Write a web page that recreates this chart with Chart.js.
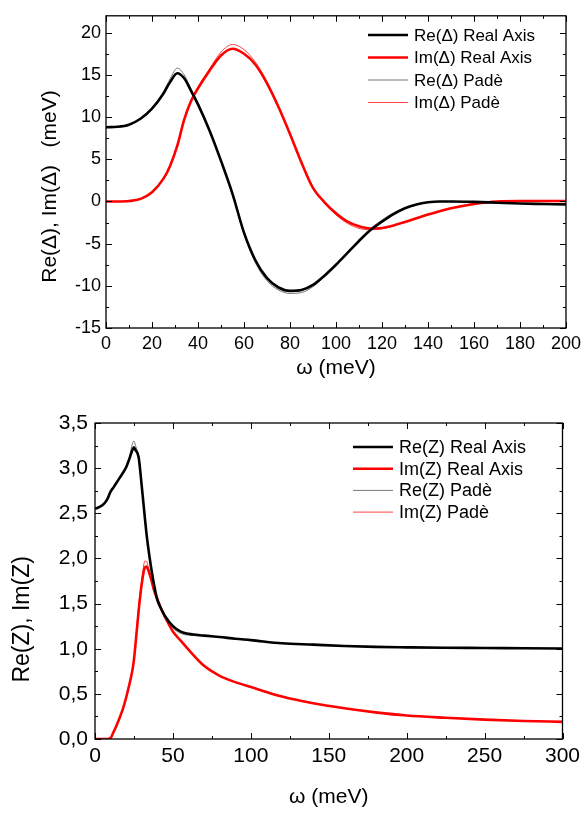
<!DOCTYPE html>
<html><head><meta charset="utf-8">
<script src="https://cdn.jsdelivr.net/npm/chart.js@4.4.0/dist/chart.umd.min.js"></script>
<style>
html,body{margin:0;padding:0;background:#fff;}
#wrap{position:relative;width:586px;height:815px;overflow:hidden;}
canvas{position:absolute;left:0;}
#c1{top:0}
#c2{top:400px}
</style></head><body>
<div id="wrap"><canvas id="c1" width="586" height="400"></canvas><canvas id="c2" width="586" height="415"></canvas></div>
<script>
// ---------- Top panel data: Δ(ω) ----------
const omegaTop = [0,5,10,15,20,25,28,31,34,37,40,45,50,55,60,65,70,75,80,85,90,95,100,105,110,115,120,125,130,135,140,145,150,160,170,180,190,200];
const reDeltaReal = [8.8,8.85,9.1,9.8,11.0,12.8,14.2,15.2,14.6,13.1,11.5,8.4,4.8,0.9,-3.7,-7.0,-9.1,-10.2,-10.6,-10.5,-9.9,-8.8,-7.5,-6.1,-4.7,-3.4,-2.4,-1.5,-0.8,-0.35,-0.1,0.0,0.0,-0.05,-0.15,-0.25,-0.3,-0.35];
const imDeltaReal = [0,0,0.05,0.3,1.1,2.7,4.3,6.6,9.7,11.9,13.4,15.5,17.3,18.1,17.5,16.2,14.0,11.2,8.0,4.6,1.6,-0.1,-1.4,-2.4,-2.95,-3.2,-3.15,-2.85,-2.45,-2.0,-1.55,-1.15,-0.8,-0.3,0.0,0.05,0.05,0.05];
const reDeltaPade = [8.8,8.85,9.1,9.8,11.0,13.0,14.6,15.8,15.0,13.3,11.7,8.5,4.8,0.8,-3.9,-7.3,-9.4,-10.5,-10.9,-10.8,-10.1,-8.9,-7.5,-6.0,-4.5,-3.2,-2.2,-1.35,-0.75,-0.35,-0.1,0.0,0.0,-0.05,-0.15,-0.25,-0.3,-0.35];
const imDeltaPade = [0,0,0.05,0.3,1.1,2.7,4.3,6.6,9.8,12.0,13.6,15.7,17.7,18.6,18.0,16.5,14.2,11.3,8.0,4.6,1.6,-0.2,-1.6,-2.6,-3.2,-3.35,-3.25,-2.9,-2.45,-2.0,-1.55,-1.15,-0.8,-0.3,0.0,0.05,0.05,0.05];
const topXTicks = [0,20,40,60,80,100,120,140,160,180,200];
const topYTicks = [-15,-10,-5,0,5,10,15,20];

// ---------- Bottom panel data: Z(ω) ----------
const omegaBot = [0,3,6,8,10,12,15,18,20,22,24,25,26,28,30,32,33,34,36,38,40,42,45,50,55,60,70,80,90,100,120,140,160,180,200,225,250,275,300];
const reZReal = [2.55,2.57,2.61,2.66,2.74,2.79,2.87,2.95,3.01,3.1,3.2,3.23,3.2,3.12,2.8,2.45,2.28,2.14,1.9,1.7,1.54,1.46,1.36,1.25,1.19,1.165,1.145,1.13,1.11,1.095,1.06,1.045,1.03,1.02,1.015,1.01,1.008,1.005,1.003];
const imZReal = [0,0,0,0,0.01,0.08,0.2,0.34,0.46,0.6,0.76,0.88,1.05,1.42,1.72,1.9,1.91,1.88,1.77,1.64,1.55,1.46,1.35,1.19,1.09,0.99,0.81,0.7,0.63,0.575,0.47,0.395,0.34,0.295,0.26,0.235,0.215,0.2,0.19];
const reZPade = [2.55,2.57,2.61,2.66,2.74,2.79,2.87,2.95,3.02,3.12,3.27,3.3,3.25,3.12,2.8,2.44,2.27,2.13,1.89,1.69,1.53,1.45,1.35,1.23,1.17,1.15,1.14,1.125,1.11,1.095,1.06,1.045,1.03,1.02,1.015,1.01,1.008,1.005,1.003];
const imZPade = [0,0,0,0,0.01,0.08,0.2,0.34,0.46,0.6,0.77,0.9,1.08,1.46,1.76,1.97,1.97,1.92,1.79,1.65,1.55,1.46,1.35,1.19,1.09,0.99,0.81,0.7,0.63,0.575,0.47,0.395,0.34,0.295,0.26,0.235,0.215,0.2,0.19];
const botXTicks = [0,50,100,150,200,250,300];
const botYTicks = [0,0.5,1,1.5,2,2.5,3,3.5];
const botYTickLabels = ['0,0','0,5','1,0','1,5','2,0','2,5','3,0','3,5'];

const FONT = '"Liberation Sans", Arial, sans-serif';
Chart.defaults.font.family = FONT;
Chart.defaults.color = '#000';

const pts = (xs, ys) => xs.map((x, i) => ({x, y: ys[i]}));

const frameTicks = {
  id: 'frameTicks',
  afterDatasetsDraw(chart, args, o) {
    const {ctx, chartArea: a, scales: {x, y}} = chart;
    ctx.save();
    ctx.strokeStyle = '#000';
    ctx.lineWidth = 1.3;
    ctx.strokeRect(a.left, a.top, a.right - a.left, a.bottom - a.top);
    ctx.lineWidth = 1;
    const seg = (x1, y1, x2, y2) => { ctx.beginPath(); ctx.moveTo(x1, y1); ctx.lineTo(x2, y2); ctx.stroke(); };
    const eps = 1e-9;
    const each = (scale, step, fn) => {
      const n0 = Math.ceil((scale.min - eps) / step), n1 = Math.floor((scale.max + eps) / step);
      for (let n = n0; n <= n1; n++) fn(n * step);
    };
    each(x, o.xMinor, v => { const len = Math.abs(v / o.xMajor - Math.round(v / o.xMajor)) < 1e-6 ? 6 : 3;
      const p = Math.round(x.getPixelForValue(v)) + 0.5; seg(p, a.bottom, p, a.bottom - len); seg(p, a.top, p, a.top + len); });
    each(y, o.yMinor, v => { const len = Math.abs(v / o.yMajor - Math.round(v / o.yMajor)) < 1e-6 ? 6 : 3;
      const p = Math.round(y.getPixelForValue(v)) + 0.5; seg(a.left, p, a.left + len, p); seg(a.right, p, a.right - len, p); });
    ctx.restore();
  }
};

const inLegend = {
  id: 'inLegend',
  afterDraw(chart, args, o) {
    const ctx = chart.ctx;
    ctx.save();
    ctx.font = o.font;
    ctx.textBaseline = 'middle';
    ctx.fillStyle = '#000';
    chart.data.datasets.forEach((ds, i) => {
      const yy = o.y + i * o.dy;
      ctx.strokeStyle = ds.borderColor;
      ctx.lineWidth = ds.borderWidth;
      ctx.beginPath(); ctx.moveTo(o.x, yy); ctx.lineTo(o.x + o.len, yy); ctx.stroke();
      ctx.fillText(ds.label, o.x + o.len + o.gap, yy + 1);
    });
    ctx.restore();
  }
};

function ds(label, data, color, width) {
  return {label, data, borderColor: color, borderWidth: width, pointRadius: 0, fill: false,
          cubicInterpolationMode: 'monotone', backgroundColor: color};
}

function makeChart(id, cfg) {
  return new Chart(document.getElementById(id), {
    type: 'line',
    data: {datasets: cfg.datasets},
    plugins: [frameTicks, inLegend],
    options: {
      responsive: false, animation: false, devicePixelRatio: 1,
      layout: {padding: cfg.padding},
      plugins: {legend: {display: false}, tooltip: {enabled: false},
        frameTicks: cfg.ticks, inLegend: cfg.legend},
      scales: {
        x: {type: 'linear', min: cfg.xMin, max: cfg.xMax,
            grid: {display: false, drawTicks: false, tickLength: 0}, border: {display: false},
            afterBuildTicks: s => { s.ticks = cfg.xTicks.map(v => ({value: v})); },
            afterFit: s => { s.height = cfg.xHeight; },
            ticks: {font: {size: cfg.tickSize}, padding: cfg.xPad, maxRotation: 0, autoSkip: false,
                    callback: v => String(v)},
            title: {display: true, text: 'ω (meV)', font: {size: cfg.xTitleSize}, padding: {top: 0, bottom: cfg.xTitlePad}}},
        y: {type: 'linear', min: cfg.yMin, max: cfg.yMax,
            grid: {display: false, drawTicks: false, tickLength: 0}, border: {display: false},
            afterBuildTicks: s => { s.ticks = cfg.yTicks.map(v => ({value: v})); },
            afterFit: s => { s.width = cfg.yWidth; },
            ticks: {font: {size: cfg.tickSize}, padding: cfg.yPad, autoSkip: false, callback: cfg.yLabel},
            title: {display: true, text: cfg.yTitle, font: {size: cfg.yTitleSize}, padding: {top: cfg.yTitlePad, bottom: 0}}}
      }
    }
  });
}

makeChart('c1', {
  datasets: [
    ds('Re(Δ) Real Axis', pts(omegaTop, reDeltaReal), '#000000', 2.6),
    ds('Im(Δ) Real Axis', pts(omegaTop, imDeltaReal), '#ff0000', 2.6),
    ds('Re(Δ) Padè', pts(omegaTop, reDeltaPade), '#777777', 1),
    ds('Im(Δ) Padè', pts(omegaTop, imDeltaPade), '#ff4444', 1)
  ],
  padding: {top: 2, right: 16, left: 0, bottom: 0},
  xMin: 0, xMax: 200, yMin: -15, yMax: 22,
  xTicks: topXTicks, yTicks: topYTicks,
  xHeight: 72, yWidth: 106, tickSize: 18, xPad: 5, yPad: 5,
  xTitleSize: 21, xTitlePad: 19,
  yTitle: 'Re(Δ), Im(Δ)   (meV)     ', yTitleSize: 21, yTitlePad: 38,
  yLabel: v => String(v),
  ticks: {xMinor: 10, xMajor: 20, yMinor: 2.5, yMajor: 5},
  legend: {x: 368, y: 35, dy: 22.5, len: 40, gap: 6, font: '17px ' + FONT}
});

makeChart('c2', {
  datasets: [
    ds('Re(Z) Real Axis', pts(omegaBot, reZReal), '#000000', 2.6),
    ds('Im(Z) Real Axis', pts(omegaBot, imZReal), '#ff0000', 2.6),
    ds('Re(Z) Padè', pts(omegaBot, reZPade), '#777777', 1),
    ds('Im(Z) Padè', pts(omegaBot, imZPade), '#ff4444', 1)
  ],
  padding: {top: 23, right: 23.5, left: 0, bottom: 0},
  xMin: 0, xMax: 300, yMin: 0, yMax: 3.5,
  xTicks: botXTicks, yTicks: botYTicks,
  xHeight: 76, yWidth: 95, tickSize: 21, xPad: 5, yPad: 7,
  xTitleSize: 21, xTitlePad: 5,
  yTitle: 'Re(Z), Im(Z)            ', yTitleSize: 23, yTitlePad: 9,
  yLabel: v => { const i = botYTicks.indexOf(v); return i >= 0 ? botYTickLabels[i] : ''; },
  ticks: {xMinor: 25, xMajor: 50, yMinor: 0.25, yMajor: 0.5},
  legend: {x: 353, y: 47, dy: 21.7, len: 40, gap: 6, font: '18px ' + FONT}
});
</script>
</body></html>
